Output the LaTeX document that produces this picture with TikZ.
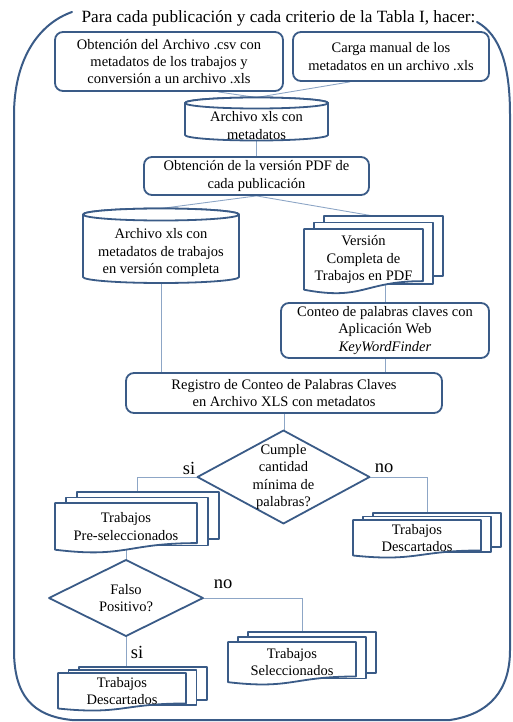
\documentclass[tikz,border=0pt]{standalone}
\usepackage{fontspec}
\setmainfont{Liberation Serif}
\usetikzlibrary{calc}
\definecolor{edge}{HTML}{3A5B87}
\definecolor{conn}{HTML}{8DA6C6}
\pgfdeclarelayer{bg}
\pgfsetlayers{bg,main}
\tikzset{
  txt/.style={font=\fontsize{14.5}{17.3}\selectfont, align=center, inner sep=0pt},
  box/.style={txt, draw=edge, line width=1.8pt, rounded corners=8pt, fill=white},
  shp/.style={draw=edge, line width=1.8pt, fill=white, line join=round},
  conn/.style={draw=conn, line width=0.9pt},
  frame/.style={draw=edge, line width=2pt, line cap=round},
  lbl/.style={font=\fontsize{18.5}{20}\selectfont, inner sep=0pt},
}
% multi-document: name x0 y0 W H dx dy text
\newcommand\mdoc[8]{%
  \path[shp] ({#2+2*#6},{#3-2*#7}) rectangle ({#2+2*#6+#4},{#3+0.72*#5});
  \path[shp] ({#2+#6},{#3-#7}) rectangle ({#2+#6+#4},{#3+0.85*#5});
  \path[shp] (#2,#3) -- ({#2+#4},#3) -- ({#2+#4},{#3+0.802*#5})
     .. controls ({#2+0.5*#4},{#3+0.802*#5}) and ({#2+0.5*#4},{#3+1.108*#5}) .. (#2,{#3+0.934*#5}) -- cycle;
  \node[txt] (#1) at ({#2+0.5*#4},{#3+0.47*#5}) {#8};
  \coordinate (#1top) at ({#2+0.5*#4+#6},{#3-2*#7});
}
% cylinder: name cx rx ytop ybot ry text
\newcommand\cyl[7]{%
  \path[shp] ({#2-#3},#4) -- ({#2-#3},#5) arc[start angle=180, end angle=360, x radius=#3pt, y radius=#6pt]
     -- ({#2+#3},#4) arc[start angle=0, end angle=180, x radius=#3pt, y radius=#6pt] -- cycle;
  \path[shp] (#2,#4) ellipse[x radius=#3pt, y radius=#6pt];
  \node[txt] (#1) at (#2,{(#4+#5)/2+#6+1}) {#7};
  \coordinate (#1top) at (#2,{#4-#6});
}
% diamond: name cx cy hw hh text
\newcommand\dia[6]{%
  \path[shp] (#2,{#3-#5}) -- ({#2+#4},#3) -- (#2,{#3+#5}) -- ({#2-#4},#3) -- cycle;
  \node[txt] (#1) at (#2,#3) {#6};
}
\begin{document}
\begin{tikzpicture}[x=1pt,y=-1pt]
\useasboundingbox (0,0) rectangle (513,722);
% frame
\draw[frame] (72,12) .. controls (38,24) and (14,60) .. (14,115) -- (14,650)
  .. controls (14,695) and (32,716) .. (72,720) -- (450,720)
  .. controls (490,714) and (510,690) .. (510,650) -- (510,115)
  .. controls (510,65) and (500,35) .. (477,22);
\node[txt, font=\fontsize{17.2}{20}\selectfont] (title) at (278.5,18) {Para cada publicación y cada criterio de la Tabla I, hacer:};

\node[box, minimum width=228pt, minimum height=59pt] (b1) at (169,61.5)
  {Obtención del Archivo .csv con\\metadatos de los trabajos y\\conversión a un archivo .xls};
\node[box, minimum width=196pt, minimum height=49pt] (b2) at (391,56.5)
  {Carga manual de los\\metadatos en un archivo .xls};
\cyl{c1}{256.5}{71.5}{103}{135}{5.5}{Archivo xls con\\metadatos}
\node[box, minimum width=225pt, minimum height=38pt] (b3) at (256.5,176)
  {Obtención de la versión PDF de\\cada publicación};
\cyl{c2}{161}{78}{214.5}{277}{6}{Archivo xls con\\metadatos de trabajos\\en versión completa}
\mdoc{s1}{304}{229}{119}{65}{10}{6.5}{Versión\\Completa de\\Trabajos en PDF}
\node[box, minimum width=208pt, minimum height=55pt] (b4) at (385,330.5)
  {Conteo de palabras claves con\\Aplicación Web\\\textit{KeyWordFinder}};
\node[box, minimum width=316pt, minimum height=40pt] (b5) at (284,393)
  {Registro de Conteo de Palabras Claves\\en Archivo XLS con metadatos};
\dia{d1}{283.5}{477}{86}{46.5}{Cumple\\cantidad\\mínima de\\palabras?}
\mdoc{s2}{55}{503}{142}{50}{11}{5.5}{Trabajos\\Pre-seleccionados}
\mdoc{s3}{353}{520}{128}{38}{10}{3.5}{Trabajos\\Descartados}
\dia{d2}{126}{598}{77}{38}{Falso\\Positivo?}
\mdoc{s4}{228}{642}{128}{43}{10}{5}{Trabajos\\Seleccionados}
\mdoc{s5}{58}{673}{128}{38}{10.5}{3}{Trabajos\\Descartados}

\node[lbl] (l1) at (189,468) {si};
\node[lbl] (l2) at (384,468) {no};
\node[lbl] (l3) at (223,584) {no};
\node[lbl] (l4) at (137,652) {si};

\begin{pgfonlayer}{bg}
\draw[conn] ($(b1.south)+(49,0)$) -- (c1top);
\draw[conn] ($(b2.south)+(-41,0)$) -- (c1top);
\draw[conn] (c1) -- (c1 |- b3.north);
\draw[conn] (b3.south) -- (c2top);
\draw[conn] (b3.south) -- (s1top);
\draw[conn] (b4.north) -- (b4.north |- s1);
\draw[conn] (c2) -- (c2 |- b5.north);
\draw[conn] (b4.south) -- (b4.south |- b5.north);
\draw[conn] (b5.south) -- (b5.south |- d1);
\draw[conn] (d1) -| (s2top);
\draw[conn] (d1) -| (s3top);
\draw[conn] (s2) -- (s2 |- d2);
\draw[conn] (d2) -| (s4top);
\draw[conn] (d2) -- (d2 |- s5top);
\end{pgfonlayer}
\end{tikzpicture}
\end{document}
